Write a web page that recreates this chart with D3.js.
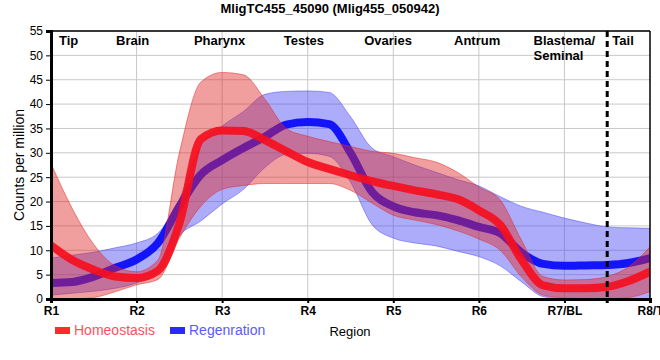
<!DOCTYPE html>
<html><head><meta charset="utf-8">
<script src="https://cdn.jsdelivr.net/npm/d3@7"></script>
<style>body{margin:0;background:#fff;font-family:"Liberation Sans",Arial,sans-serif}</style>
</head><body><svg id="c" width="660" height="360"></svg>
<script>
const title = "MligTC455_45090 (Mlig455_050942)";
const tickLabels = ["R1","R2","R3","R4","R5","R6","R7/BL","R8/T"];
const regionNames = ["Tip","Brain","Pharynx","Testes","Ovaries","Antrum","Blastema/\nSeminal","Tail"];
const regionLabelPos = [1.093,1.76,2.67,3.72,4.66,5.71,6.64,7.56];
const yTicks = [0,5,10,15,20,25,30,35,40,45,50,55];
const positions = [1,1.25,1.5,1.75,2,2.25,2.5,2.75,3,3.25,3.5,3.75,4,4.25,4.5,4.75,5,5.25,5.5,5.75,6,6.25,6.5,6.75,7,7.25,7.5,7.75,8];
const homeoMean = [11,8,6,4.6,4.3,5.8,15.5,32.8,34.6,34.5,32.6,30.3,28.1,26.7,25.4,24.2,23.2,22.3,21.5,20.5,18.2,15.2,8,2.8,2.2,2.2,2.5,3.7,5.6];
const homeoUpper = [27.8,18.5,11.2,6.8,5.6,8,30,44.5,46.5,46,41,35,33.4,32.3,31.3,30.3,29.9,29,28.1,26,23,20.3,12,4.6,3.9,4,4.6,6.6,10.7];
const homeoLower = [0,0,0.3,1.5,2.9,4,12.5,19,22.5,23.3,23.7,23.7,23.7,23.7,22.3,19.7,17.2,16.2,15.3,14,12.3,10,4.5,0.8,0.2,0,0,0.3,1.5];
const regenMean = [3.3,3.5,4.6,6.4,8.1,11.5,19,25.5,28.5,31,33.3,35.8,36.3,35.9,30,22,19,17.8,17.2,16.2,14.8,13.5,9.5,7.2,6.8,6.9,7,7.4,8.4];
const regenUpper = [8.4,9,9.6,10.5,11.5,13.5,20.5,31.5,35.5,38.5,42,42.6,42.7,42.4,37.4,31,29.2,27.5,26,24.5,23.2,21,19,17.8,16.6,15.6,14.8,14.6,14.5];
const regenLower = [0.8,1.2,1.6,2.2,3.3,5.5,13,16,19.5,22.5,27,29.7,29.9,29.3,24,15.3,12.5,11.5,10.9,9.8,8.7,6.8,3.5,0.5,0,0,0,0,0];
const dividerPos = 7.5;
const seriesNames = ["Homeostasis","Regenration"];

const svg = d3.select("#c");
const L = 51, R = 650, T = 31, B = 299;
const x = d3.scaleLinear().domain([1,8]).range([L,R]);
const y = d3.scaleLinear().domain([0,55]).range([B,T]);

// grid
svg.append("g").selectAll("line").data(yTicks.slice(1)).join("line")
  .attr("x1",L).attr("x2",R).attr("y1",d=>y(d)).attr("y2",d=>y(d))
  .attr("stroke","#c8c8c8").attr("stroke-width",1);
svg.append("g").selectAll("line").data(d3.range(2,8)).join("line")
  .attr("x1",d=>x(d)).attr("x2",d=>x(d)).attr("y1",T).attr("y2",B)
  .attr("stroke","#c8c8c8").attr("stroke-width",1);

const curve = d3.curveMonotoneX;
const area = (lo,hi) => d3.area().x((d,i)=>x(positions[i])).y0((d,i)=>y(lo[i])).y1((d,i)=>y(hi[i])).curve(curve)(positions);
const line = (vals) => d3.line().x((d,i)=>x(positions[i])).y((d,i)=>y(vals[i])).curve(curve)(positions);

svg.append("clipPath").attr("id","pc").append("rect").attr("x",L).attr("y",T).attr("width",R-L).attr("height",B-T);
const g = svg.append("g").attr("clip-path","url(#pc)");
g.append("path").attr("d",area(regenLower,regenUpper)).attr("fill","rgb(70,70,245)").attr("fill-opacity",0.45)
  .attr("stroke","rgb(70,70,245)").attr("stroke-opacity",0.5).attr("stroke-width",1);
g.append("path").attr("d",line(regenMean)).attr("fill","none").attr("stroke","rgb(20,20,250)").attr("stroke-width",8).attr("stroke-linecap","round");
g.append("path").attr("d",area(homeoLower,homeoUpper)).attr("fill","rgb(225,40,40)").attr("fill-opacity",0.45)
  .attr("stroke","rgb(225,40,40)").attr("stroke-opacity",0.5).attr("stroke-width",1);
g.append("path").attr("d",line(homeoMean)).attr("fill","none").attr("stroke","rgb(245,15,30)").attr("stroke-opacity",0.92).attr("stroke-width",8).attr("stroke-linecap","round");

// frame
svg.append("line").attr("x1",L).attr("x2",R).attr("y1",T).attr("y2",T).attr("stroke","#000").attr("stroke-width",1.5);
svg.append("line").attr("x1",R).attr("x2",R).attr("y1",T).attr("y2",B).attr("stroke","#000").attr("stroke-width",1.5);

// divider
svg.append("line").attr("x1",x(dividerPos)).attr("x2",x(dividerPos)).attr("y1",T).attr("y2",B+4)
  .attr("stroke","#000").attr("stroke-width",3).attr("stroke-dasharray","6,4");

// axes
const xAxis = d3.axisBottom(x).tickValues(d3.range(1,9)).tickFormat((d,i)=>tickLabels[i]).tickSize(4).tickPadding(3);
const gx = svg.append("g").attr("transform",`translate(0,${B})`).call(xAxis);
gx.select(".domain").attr("stroke","#000").attr("stroke-width",3);
gx.selectAll(".tick line").attr("stroke","#000").attr("stroke-width",2);
gx.selectAll("text").attr("font-size",12).attr("font-weight","bold").attr("fill","#000").attr("font-family","Liberation Sans, Arial, sans-serif");

const yAxis = d3.axisLeft(y).tickValues(yTicks).tickSize(5).tickPadding(3);
const gy = svg.append("g").attr("transform",`translate(${L},0)`).call(yAxis);
gy.select(".domain").attr("stroke","#000").attr("stroke-width",3);
gy.selectAll(".tick line").attr("stroke","#000").attr("stroke-width",1);
gy.selectAll("text").attr("font-size",12).attr("fill","#000").attr("font-family","Liberation Sans, Arial, sans-serif");

// region labels
const rl = svg.append("g").attr("font-family","Liberation Sans, Arial, sans-serif").attr("font-size",13).attr("font-weight","bold");
regionNames.forEach((n,i)=>{
  const t = rl.append("text").attr("x",x(regionLabelPos[i])).attr("y",45);
  n.split("\n").forEach((s,j)=>t.append("tspan").attr("x",x(regionLabelPos[i])).attr("dy",j?15:0).text(s));
});

// title
svg.append("text").attr("x",330).attr("y",13).attr("text-anchor","middle").attr("font-size",13).attr("font-weight","bold").text(title);
// y label
svg.append("text").attr("transform",`translate(24,${(T+B)/2}) rotate(-90)`).attr("text-anchor","middle").attr("font-size",14).text("Counts per million");
// x label
svg.append("text").attr("x",350).attr("y",336).attr("text-anchor","middle").attr("font-size",13).text("Region");

// legend
const legColors = ["#ff2a2a","#2a2aff"], legText = ["#ff5060","#5a5aff"], legX = [55,170];
seriesNames.forEach((n,i)=>{
  svg.append("rect").attr("x",legX[i]).attr("y",327).attr("width",15).attr("height",7).attr("fill",legColors[i]);
  svg.append("text").attr("x",legX[i]+19).attr("y",335).attr("font-size",14).attr("fill",legText[i]).text(n);
});
</script></body></html>
